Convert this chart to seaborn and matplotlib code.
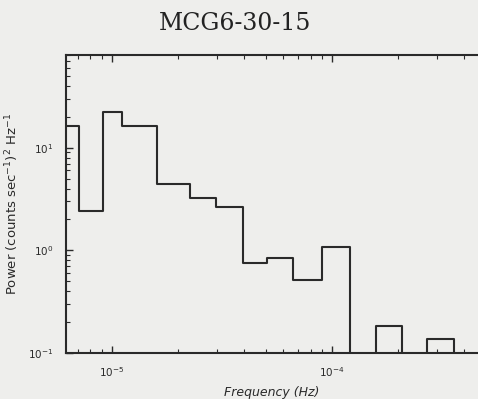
import matplotlib
matplotlib.use("Agg")
import matplotlib.pyplot as plt
import seaborn as sns
from matplotlib.ticker import LogLocator, FixedLocator, FixedFormatter, NullFormatter

# Bin edges (Hz) and binned power
freq_edges = [6.2e-6, 7.1e-6, 9.1e-6, 1.11e-5, 1.60e-5, 2.26e-5, 2.97e-5, 3.94e-5,
              5.07e-5, 6.65e-5, 9.0e-5, 1.21e-4, 1.58e-4, 2.08e-4, 2.70e-4, 3.59e-4, 4.61e-4]
power = [16.4, 2.41, 22.5, 16.4, 4.4, 3.24, 2.64, 0.76,
         0.84, 0.52, 1.09, 0.0, 0.184, 0.0, 0.137, 0.0]

x_ticks = [1e-5, 1e-4]
x_tick_labels = [r"$10^{-5}$", r"$10^{-4}$"]
y_ticks = [0.1, 1, 10]
y_tick_labels = [r"$10^{-1}$", r"$10^{0}$", r"$10^{1}$"]

sns.set_theme(style="ticks")
bg = "#eeeeec"
ink = "#2a2a2a"

fig = plt.figure(figsize=(4.78, 3.99), dpi=100, facecolor=bg)
ax = fig.add_axes([66 / 478, 46 / 399, 412 / 478, 298 / 399], facecolor=bg)

# empty bins drop below the axis so the step runs along the bottom
y_step = [v if v > 0 else 0.01 for v in power] + [power[-1] if power[-1] > 0 else 0.01]
sns.lineplot(x=freq_edges, y=y_step, drawstyle="steps-post", estimator=None, sort=False,
             color=ink, linewidth=1.5, ax=ax)

ax.set_xscale("log")
ax.set_yscale("log")
ax.set_xlim(freq_edges[0], freq_edges[-1])
ax.set_ylim(0.1, 80)

ax.xaxis.set_major_locator(FixedLocator(x_ticks))
ax.xaxis.set_major_formatter(FixedFormatter(x_tick_labels))
ax.xaxis.set_minor_locator(LogLocator(base=10, subs=range(2, 10)))
ax.xaxis.set_minor_formatter(NullFormatter())
ax.yaxis.set_major_locator(FixedLocator(y_ticks))
ax.yaxis.set_major_formatter(FixedFormatter(y_tick_labels))
ax.yaxis.set_minor_locator(LogLocator(base=10, subs=range(2, 10)))
ax.yaxis.set_minor_formatter(NullFormatter())

ax.tick_params(which="both", direction="in", top=True, right=False, color=ink,
               labelcolor=ink, labelsize=7.5)
ax.tick_params(which="major", length=5, width=1, pad=9)
ax.tick_params(which="minor", length=3, width=0.8)
for side in ["left", "bottom", "top"]:
    ax.spines[side].set_color(ink)
    ax.spines[side].set_linewidth(1.5)
ax.spines["right"].set_visible(False)

ax.set_xlabel("Frequency (Hz)", fontsize=9, color=ink, style="italic", labelpad=5)
ax.set_ylabel(r"Power (counts sec$^{-1}$)$^2$ Hz$^{-1}$", fontsize=9.5, color=ink, labelpad=5)

fig.text(235 / 478, 1 - 24 / 399, "MCG6-30-15", family="DejaVu Serif", fontsize=17,
         color="#222222", ha="center", va="center")

fig.savefig("out.png", dpi=100, facecolor=bg)
